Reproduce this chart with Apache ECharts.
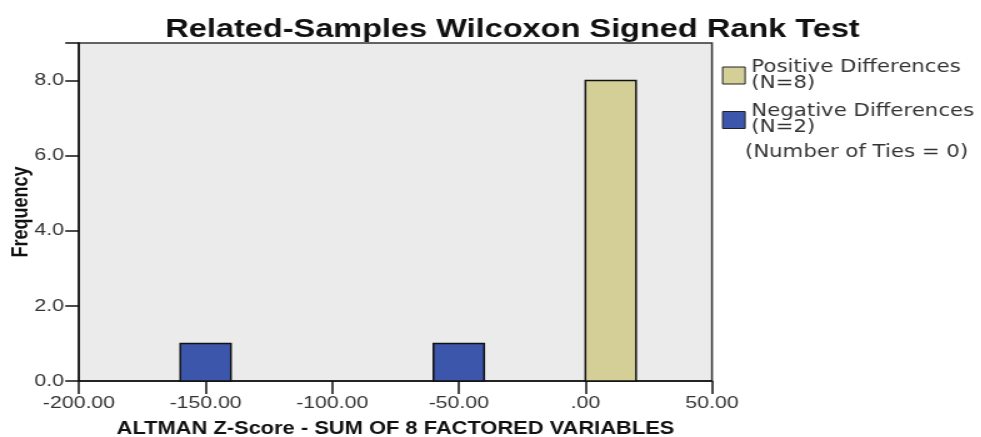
<!DOCTYPE html>
<html><head><meta charset="utf-8">
<script src="https://cdn.jsdelivr.net/npm/echarts@6/dist/echarts.min.js"></script>
<style>html,body{margin:0;padding:0;background:#fff;overflow:hidden}
#c{width:785px;height:437px;transform:scaleX(1.25);transform-origin:0 0}</style>
</head><body><div id="c"></div>
<script>
const binStart = [-160, -60, 0];
const binEnd = [-140, -40, 20];
const counts = [1, 1, 8];
const groups = ['neg', 'neg', 'pos'];
const xTicks = [-200, -150, -100, -50, 0, 50];
const yTicks = [0, 2, 4, 6, 8];
const legendNames = ['Positive Differences\n(N=8)', 'Negative Differences\n(N=2)'];
const tiesNote = '(Number of Ties = 0)';
const colors = {pos: '#d3cf97', neg: '#3c56ab'};

const posData = [], negData = [];
for (let i = 0; i < counts.length; i++) {
  const d = [binStart[i], binEnd[i], counts[i]];
  (groups[i] === 'pos' ? posData : negData).push(d);
}
function renderBar(params, api) {
  const p0 = api.coord([api.value(0), api.value(2)]);
  const p1 = api.coord([api.value(1), 0]);
  return {type: 'rect', shape: {x: p0[0], y: p0[1], width: p1[0] - p0[0], height: p1[1] - p0[1]},
    style: {fill: api.visual('color'), stroke: '#111', lineWidth: 1.5}};
}
const font = 'Liberation Sans, Arial, sans-serif';
const lfont = 'DejaVu Sans, sans-serif';
const chart = echarts.init(document.getElementById('c'));
chart.setOption({
  animation: false,
  title: {text: 'Related-Samples Wilcoxon Signed Rank Test', left: 405, textAlign: 'center', top: 12,
    textStyle: {fontFamily: font, fontSize: 26, fontWeight: 'bold', color: '#111'}},
  grid: {left: 63.2, top: 43, width: 506.4, height: 338, show: true, containLabel: false, outerBoundsMode: 'none',
    backgroundColor: '#ebebeb', borderColor: '#333', borderWidth: 1.5},
  legend: {left: 577.6, top: 59, orient: 'vertical', itemWidth: 18, itemHeight: 17, itemGap: 11.5, padding: 0,
    textStyle: {fontFamily: lfont, fontSize: 17, color: '#333', lineHeight: 16},
    data: legendNames.map(n => ({name: n, icon: 'rect', itemStyle: {borderColor: '#222', borderWidth: 1}}))},
  graphic: [{type: 'text', left: 596, top: 144, style: {text: tiesNote, font: '17px ' + lfont, fill: '#333'}}],
  xAxis: {type: 'value', min: -200, max: 50, interval: 50,
    name: 'ALTMAN Z-Score - SUM OF 8 FACTORED VARIABLES', nameLocation: 'middle', nameGap: 39, nameMoveOverlap: false,
    nameTextStyle: {fontFamily: font, fontSize: 17.5, fontWeight: 'bold', color: '#111', verticalAlign: 'top'},
    axisLine: {onZero: false, lineStyle: {color: '#111', width: 1.5}},
    axisTick: {show: true, inside: false, length: 13, lineStyle: {color: '#111', width: 1.5}},
    axisLabel: {fontFamily: font, fontSize: 17, color: '#333', margin: 14,
      formatter: v => xTicks.includes(v) ? (v === 0 ? '.00' : v.toFixed(2)) : ''},
    splitLine: {show: false}},
  yAxis: {type: 'value', min: 0, max: 9, interval: 2,
    name: 'Frequency', nameLocation: 'middle', nameGap: 37, nameMoveOverlap: false,
    nameTextStyle: {fontFamily: font, fontSize: 18, fontWeight: 'bold', color: '#111'},
    axisLine: {show: true, onZero: false, lineStyle: {color: '#111', width: 1.5}},
    axisTick: {show: true, inside: false, length: 11, lineStyle: {color: '#111', width: 1.5}},
    axisLabel: {fontFamily: font, fontSize: 17, color: '#333', margin: 12,
      formatter: v => yTicks.includes(v) ? v.toFixed(1) : ''},
    splitLine: {show: false}},
  series: [
    {name: legendNames[0], type: 'custom', renderItem: renderBar, data: posData, itemStyle: {color: colors.pos}, encode: {x: [0, 1], y: 2}},
    {name: legendNames[1], type: 'custom', renderItem: renderBar, data: negData, itemStyle: {color: colors.neg}, encode: {x: [0, 1], y: 2}}
  ]
});
</script></body></html>
